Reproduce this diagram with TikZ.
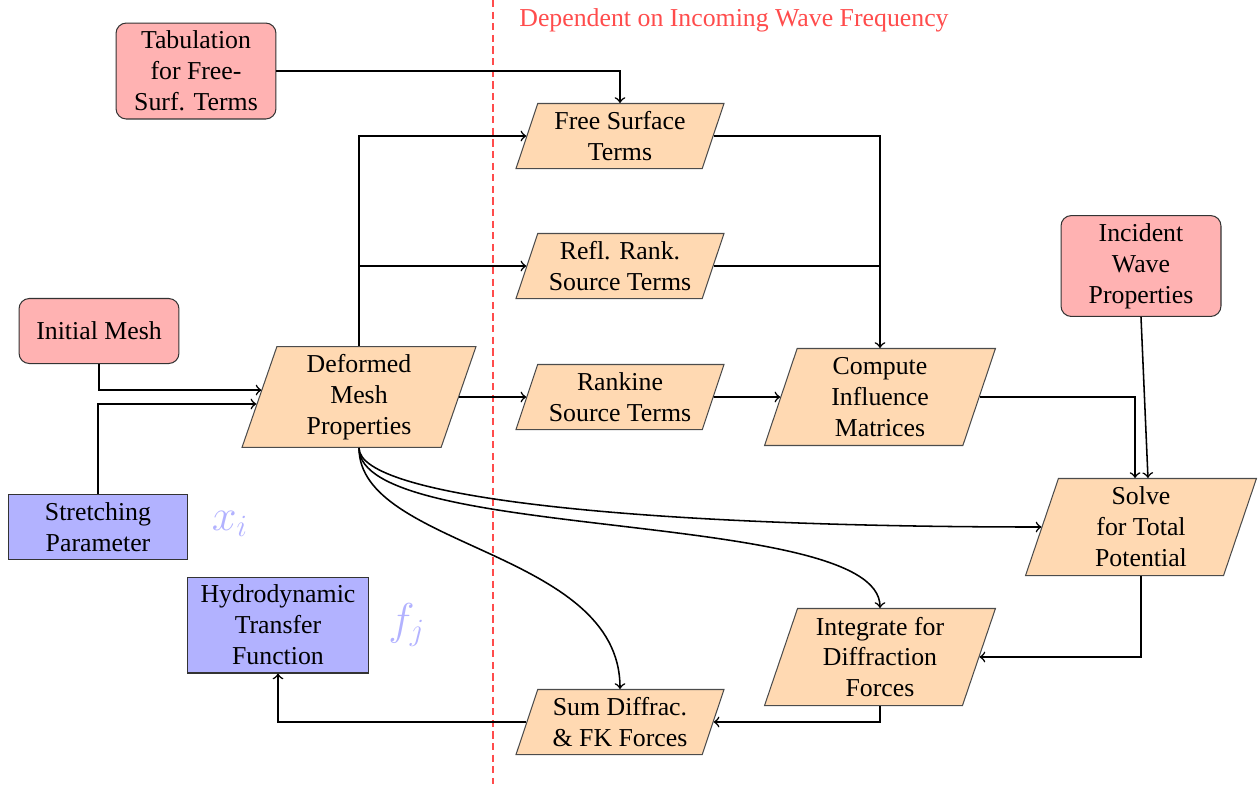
\documentclass[tikz,border=0pt]{standalone}
\usepackage{fontspec}
\setmainfont{Liberation Serif}
\usetikzlibrary{shapes.geometric,calc}
\begin{document}
\begin{tikzpicture}[x=0.3876pt,y=-0.3876pt,
  para/.style={trapezium, trapezium left angle=70, trapezium right angle=110,
    trapezium stretches body, draw=black!70, fill=orange!30, align=center, inner sep=2pt},
  parasmall/.style={para, minimum width=80.6pt, minimum height=25.2pt},
  parabig/.style={para, minimum width=89.5pt, minimum height=37.6pt},
  inbox/.style={draw=black!80, fill=red!30, rounded corners=4pt, align=center, inner sep=2pt},
  outbox/.style={draw=black!80, fill=blue!30, align=center, inner sep=2pt},
  conn/.style={semithick, ->},
  varlabel/.style={text=blue!30, font=\LARGE},
  divider/.style={red!70, line width=1.1pt, dash pattern=on 2.8pt off 1.7pt}
]
\useasboundingbox (0,0) rectangle (1260,784);

% divider
\coordinate (dtop) at (493,0);
\coordinate (dbot) at (493,784);
\draw[divider] (dtop) -- (dbot);
\node[text=red!70] (title) at (734,20) {Dependent on Incoming Wave Frequency};

% inputs
\node[inbox, minimum width=62pt, minimum height=37.2pt] (tab) at (196,71) {Tabulation\\for Free-\\Surf. Terms};
\node[inbox, minimum width=62pt, minimum height=25.2pt] (init) at (99,331) {Initial Mesh};
\node[inbox, minimum width=62pt, minimum height=39.1pt] (inc) at (1141,266) {Incident\\Wave\\Properties};
\node[outbox, minimum width=69.4pt, minimum height=25.2pt] (stretch) at (98,527) {Stretching\\Parameter};
\node[outbox, minimum width=69.8pt, minimum height=37.2pt] (hydro) at (278,625) {Hydrodynamic\\Transfer\\Function};

\node[varlabel] (xi) at (230,524) {$x_i$};
\node[varlabel] (fj) at (407,625) {$f_j$};

% process
\node[para, minimum width=90.7pt, minimum height=39.1pt] (def) at (359,397) {Deformed\\Mesh\\Properties};
\node[parasmall] (free) at (620,136) {Free Surface\\Terms};
\node[parasmall] (refl) at (620,266) {Refl. Rank.\\Source Terms};
\node[parasmall] (rank) at (620,397) {Rankine\\Source Terms};
\node[parasmall] (sum) at (620,722) {Sum Diffrac.\\\& FK Forces};
\node[parabig] (comp) at (880,397) {Compute\\Influence\\Matrices};
\node[parabig] (integ) at (880,657) {Integrate for\\Diffraction\\Forces};
\node[parabig] (solve) at (1141,527) {Solve\\for Total\\Potential};

% connectors
\draw[conn] (tab.east) -| (free.north);
\draw[conn] (init.south) |- ([xshift=1pt,yshift=2.7pt]def.west);
\draw[conn] (stretch.north) |- ([xshift=-1pt,yshift=-2.7pt]def.west);
\draw[conn] (def.north) |- (free.west);
\draw[conn] (def.north) |- (refl.west);
\draw[conn] (def.east) -- (rank.west);
\draw[conn] (free.east) -| (comp.north);
\draw[semithick] (refl.east) -- (refl.east -| comp.north);
\draw[conn] (rank.east) -- (comp.west);
\draw[conn] (comp.east) -| ([xshift=-2.3pt]solve.north);
\draw[conn] (inc.south) -- ([xshift=2.7pt]solve.north);
\draw[conn] (def.south) .. controls +(0,50) and +(-400,0) .. (solve.west);
\draw[conn] (def.south) .. controls +(0,95) and +(0,-100) .. (integ.north);
\draw[conn] (def.south) .. controls +(0,100) and +(0,-139) .. (sum.north);
\draw[conn] (solve.south) |- (integ.east);
\draw[conn] (integ.south) |- (sum.east);
\draw[conn] (sum.west) -| (hydro.south);
\end{tikzpicture}
\end{document}
